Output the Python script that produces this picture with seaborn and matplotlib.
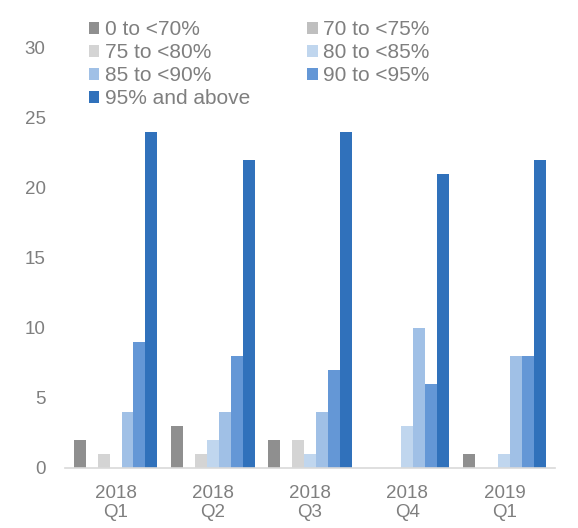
import matplotlib
matplotlib.use("Agg")
import matplotlib.pyplot as plt
import seaborn as sns
import pandas as pd

quarters = ["2018\nQ1", "2018\nQ2", "2018\nQ3", "2018\nQ4", "2019\nQ1"]
bands = ["0 to <70%", "70 to <75%", "75 to <80%", "80 to <85%",
         "85 to <90%", "90 to <95%", "95% and above"]
v_0_70 = [2, 3, 2, 0, 1]
v_70_75 = [0, 0, 0, 0, 0]
v_75_80 = [1, 1, 2, 0, 0]
v_80_85 = [0, 2, 1, 3, 1]
v_85_90 = [4, 4, 4, 10, 8]
v_90_95 = [9, 8, 7, 6, 8]
v_95_up = [24, 22, 24, 21, 22]
colors = ["#8f8f8f", "#bfbfbf", "#d4d4d4", "#c0d6ee", "#a0c0e6", "#6497d6", "#3071bb"]

series = [v_0_70, v_70_75, v_75_80, v_80_85, v_85_90, v_90_95, v_95_up]
rows = []
for b, vals in zip(bands, series):
    for q, v in zip(quarters, vals):
        rows.append({"quarter": q, "band": b, "value": v})
df = pd.DataFrame(rows)

sns.set_style("white")
plt.rcParams["font.family"] = ["Liberation Sans", "DejaVu Sans"]
txt = "#7f7f7f"

fig = plt.figure(figsize=(5.78, 5.28), dpi=100)
ax = fig.add_axes([65 / 578, 1 - 468 / 528, (555 - 65) / 578, (468 - 48) / 528])
sns.barplot(data=df, x="quarter", y="value", hue="band", hue_order=bands,
            order=quarters, palette=colors, width=0.86, gap=0, saturation=1,
            linewidth=0, errorbar=None, ax=ax)
ax.set_ylim(0, 30)
ax.set_xlim(-0.52, 4.52)
ax.set_yticks([0, 5, 10, 15, 20, 25, 30])
ax.set_xlabel("")
ax.set_ylabel("")
for s in ["top", "right", "left"]:
    ax.spines[s].set_visible(False)
ax.spines["bottom"].set_color("#d9d9d9")
ax.spines["bottom"].set_linewidth(1.2)
ax.tick_params(axis="both", length=0, labelsize=13.5, colors=txt)
ax.tick_params(axis="x", pad=12)
ax.tick_params(axis="y", pad=14)
ax.grid(False)

handles, labels = ax.get_legend_handles_labels()
ax.get_legend().remove()
order = [0, 2, 4, 6, 1, 3, 5]
leg = fig.legend([handles[i] for i in order], [labels[i] for i in order],
                 ncol=2, frameon=False, loc="upper left",
                 bbox_to_anchor=(89 / 578, 1 - 20 / 528),
                 fontsize=15, handlelength=0.5, handleheight=0.5,
                 handletextpad=0.25, labelspacing=0.2, columnspacing=2.75,
                 borderpad=0, borderaxespad=0)
for t in leg.get_texts():
    t.set_color(txt)

fig.savefig("out.png", dpi=100)
